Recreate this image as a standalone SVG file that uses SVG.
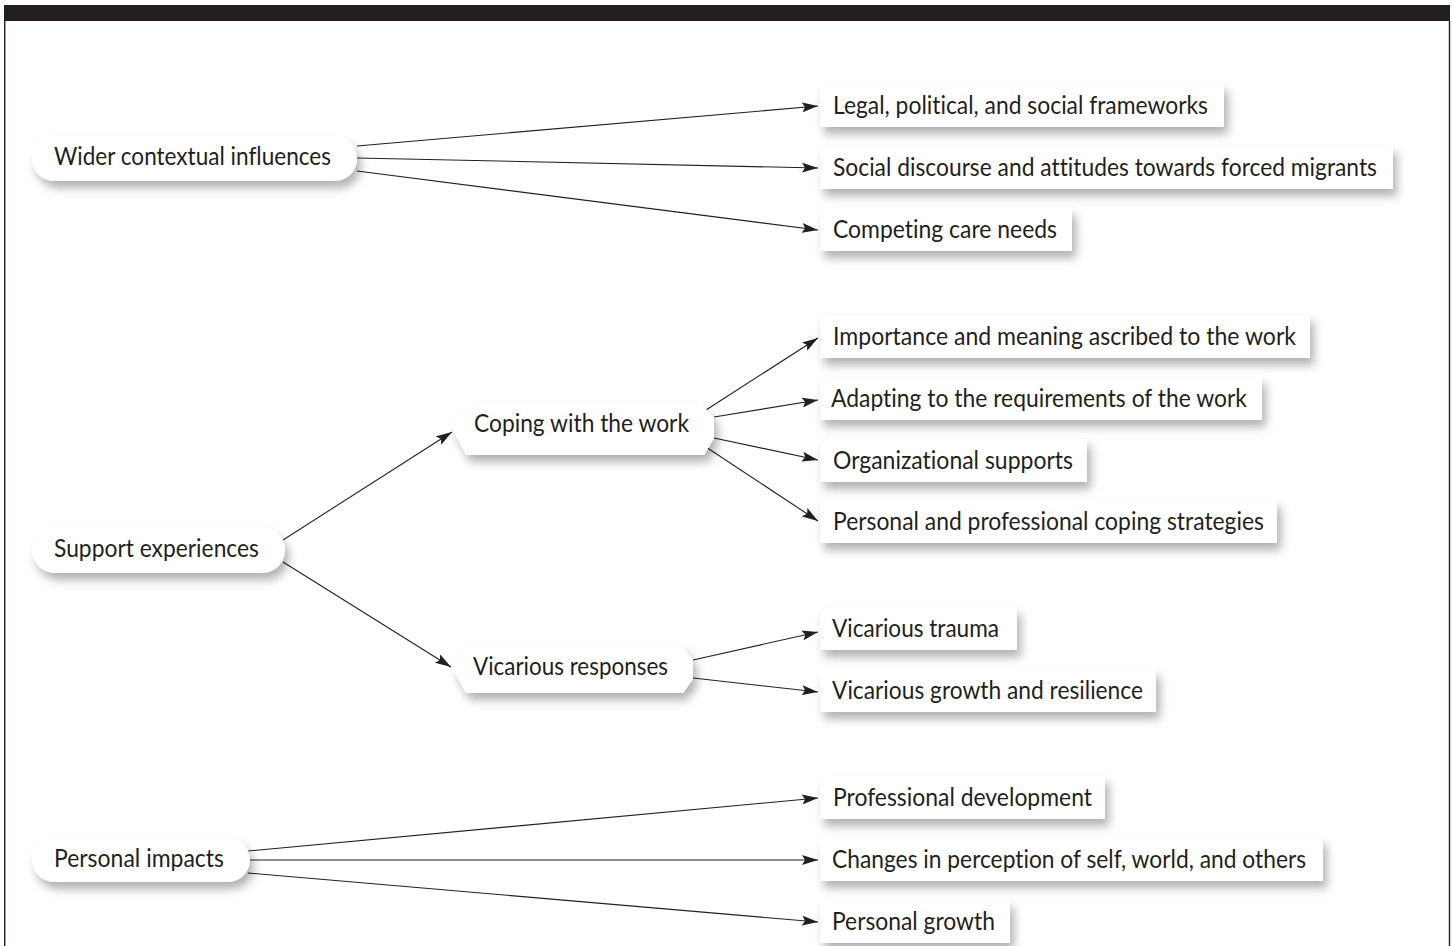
<svg xmlns="http://www.w3.org/2000/svg" width="1453" height="946" viewBox="0 0 1453 946">
<style>
text{font-family:Lato,"Open Sans","Liberation Sans",sans-serif;font-size:25px;fill:#231f20;font-variant-ligatures:none;font-feature-settings:"liga" 0,"clig" 0,"dlig" 0}
.box{fill:#fff;filter:url(#sh)}
.c{stroke:#231f20;stroke-width:1.1;fill:none;marker-end:url(#ah)}
</style>
<defs>
<filter id="sh" x="-10%" y="-30%" width="130%" height="190%">
<feDropShadow dx="4" dy="7" stdDeviation="5" flood-color="#000" flood-opacity="0.3"/>
</filter>
<marker id="ah" viewBox="0 0 16 10" refX="16" refY="5" markerWidth="16" markerHeight="10" markerUnits="userSpaceOnUse" orient="auto">
<path d="M0,0 L16,5 L0,10 L3,5 Z" fill="#231f20"/>
</marker>
</defs>
<rect x="0" y="0" width="1453" height="946" fill="#fff"/>
<rect x="4" y="5" width="1446" height="16" fill="#231f20"/>
<line x1="4.7" y1="21" x2="4.7" y2="946" stroke="#231f20" stroke-width="1.4"/>
<line x1="1449.5" y1="21" x2="1449.5" y2="946" stroke="#231f20" stroke-width="1.4"/>

<g id="connectors">
<line class="c" x1="357" y1="146" x2="818" y2="106"/>
<line class="c" x1="357" y1="158" x2="818" y2="168"/>
<line class="c" x1="357" y1="171" x2="818" y2="230"/>
<line class="c" x1="283" y1="540" x2="452" y2="432"/>
<line class="c" x1="283" y1="562" x2="451" y2="667"/>
<line class="c" x1="706" y1="410" x2="818" y2="338"/>
<line class="c" x1="714" y1="417" x2="818" y2="400"/>
<line class="c" x1="714" y1="438" x2="818" y2="460"/>
<line class="c" x1="706" y1="447" x2="818" y2="521"/>
<line class="c" x1="693" y1="660" x2="818" y2="632"/>
<line class="c" x1="693" y1="678" x2="818" y2="692"/>
<line class="c" x1="248" y1="851" x2="818" y2="798"/>
<line class="c" x1="250" y1="860" x2="818" y2="860"/>
<line class="c" x1="248" y1="873" x2="818" y2="922"/>
</g>

<g id="n-wider"><rect class="box" x="32" y="136" width="325" height="45" rx="22.5"/><text x="54" y="165" textLength="277" lengthAdjust="spacingAndGlyphs">Wider contextual influences</text></g>
<g id="n-support"><rect class="box" x="32" y="527" width="253" height="46" rx="23"/><text x="54" y="557" textLength="205" lengthAdjust="spacingAndGlyphs">Support experiences</text></g>
<g id="n-personal"><rect class="box" x="32" y="837" width="218" height="45" rx="22.5"/><text x="54" y="867" textLength="170" lengthAdjust="spacingAndGlyphs">Personal impacts</text></g>
<g id="n-coping"><path class="box" d="M466,402 H700 L714,418 V438 L704,455 H466 L452,428 Z"/><text x="474" y="432" textLength="215" lengthAdjust="spacingAndGlyphs">Coping with the work</text></g>
<g id="n-vicarious"><path class="box" d="M466,645 H681 L693,660 V679 L683,693 H466 L453,669 Z"/><text x="473" y="675" textLength="195" lengthAdjust="spacingAndGlyphs">Vicarious responses</text></g>

<g id="l-legal"><rect class="box" x="820" y="84" width="404" height="43"/><text x="833" y="114" textLength="375" lengthAdjust="spacingAndGlyphs">Legal, political, and social frameworks</text></g>
<g id="l-social"><rect class="box" x="820" y="146" width="573" height="43"/><text x="833" y="176" textLength="544" lengthAdjust="spacingAndGlyphs">Social discourse and attitudes towards forced migrants</text></g>
<g id="l-competing"><rect class="box" x="820" y="208" width="252" height="43"/><text x="833" y="238" textLength="224" lengthAdjust="spacingAndGlyphs">Competing care needs</text></g>
<g id="l-importance"><rect class="box" x="820" y="315" width="490" height="43"/><text x="833" y="345" textLength="463" lengthAdjust="spacingAndGlyphs">Importance and meaning ascribed to the work</text></g>
<g id="l-adapting"><rect class="box" x="820" y="377" width="442" height="43"/><text x="831" y="407" textLength="416" lengthAdjust="spacingAndGlyphs">Adapting to the requirements of the work</text></g>
<g id="l-org"><rect class="box" x="820" y="439" width="267" height="43"/><text x="833" y="469" textLength="240" lengthAdjust="spacingAndGlyphs">Organizational supports</text></g>
<g id="l-coping"><rect class="box" x="820" y="500" width="457" height="43"/><text x="833" y="530" textLength="431" lengthAdjust="spacingAndGlyphs">Personal and professional coping strategies</text></g>
<g id="l-trauma"><rect class="box" x="820" y="607" width="197" height="43"/><text x="832" y="637" textLength="167" lengthAdjust="spacingAndGlyphs">Vicarious trauma</text></g>
<g id="l-growth"><rect class="box" x="820" y="669" width="336" height="43"/><text x="832" y="699" textLength="311" lengthAdjust="spacingAndGlyphs">Vicarious growth and resilience</text></g>
<g id="l-prof"><rect class="box" x="820" y="776" width="285" height="43"/><text x="833" y="806" textLength="259" lengthAdjust="spacingAndGlyphs">Professional development</text></g>
<g id="l-changes"><rect class="box" x="820" y="838" width="503" height="43"/><text x="832" y="868" textLength="474" lengthAdjust="spacingAndGlyphs">Changes in perception of self, world, and others</text></g>
<g id="l-pgrowth"><rect class="box" x="820" y="900" width="190" height="43"/><text x="832" y="930" textLength="163" lengthAdjust="spacingAndGlyphs">Personal growth</text></g>
</svg>
